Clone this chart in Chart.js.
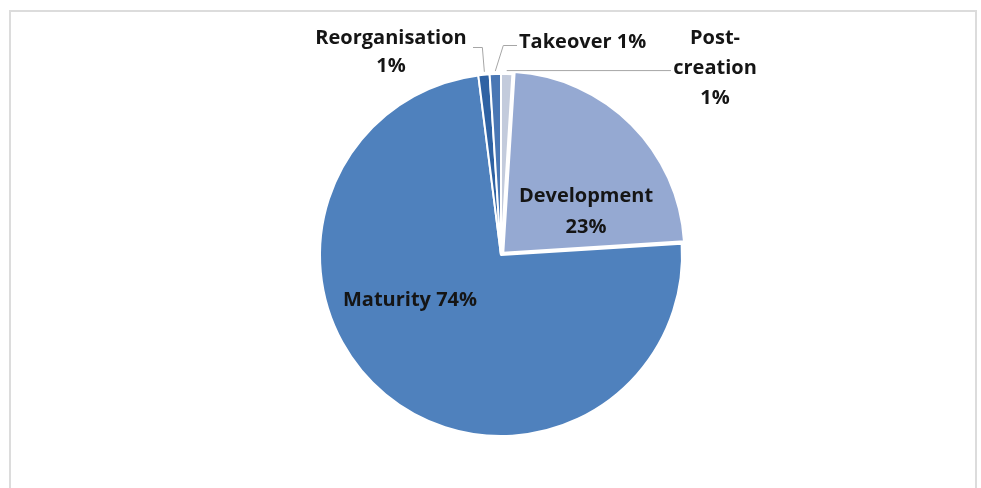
<!DOCTYPE html>
<html>
<head>
<meta charset="utf-8">
<script src="https://cdn.jsdelivr.net/npm/chart.js@4.4.0/dist/chart.umd.min.js"></script>
<style>
  html, body { margin: 0; padding: 0; background: #fff; }
  #wrap { position: relative; width: 981px; height: 488px; overflow: hidden; }
  #frame {
    position: absolute; left: 9px; top: 10px; width: 968px; height: 520px;
    border: 2px solid #dcdcdc; box-sizing: border-box;
  }
  #stageChart { position: absolute; left: 0; top: 0; }
</style>
</head>
<body>
<div id="wrap">
  <div id="frame"></div>
  <canvas id="stageChart" width="981" height="488"></canvas>
</div>
<script>
// Company life-cycle stages, clockwise from 12 o'clock
const categories = ['Post-creation', 'Development', 'Maturity', 'Reorganisation', 'Takeover'];
const shares = [1, 23, 74, 1, 1];
const sliceColors = ['#c3cbdc', '#95a9d2', '#4f81bd', '#2f62a3', '#4a77b4'];
// only the development slice is pulled out
const sliceOffsets = [0, 13, 0, 0, 0];

// label placement around the pie centre (pixels)
const labelSpots = [
  { dx: 214, dy: -217, gap: 30, align: 'center', lines: ['Post-', 'creation', '{v}'], leader: 'right' },
  { dx: 85, dy: -59, gap: 31, align: 'center', lines: ['Development', '{v}'] },
  { dx: -91, dy: 45, gap: 30, align: 'center', lines: ['Maturity {v}'] },
  { dx: -110, dy: -217, gap: 28, align: 'center', lines: ['Reorganisation', '{v}'], leader: 'left' },
  { dx: 18, dy: -213, gap: 30, align: 'left', lines: ['Takeover {v}'], leader: 'up' }
];

const sliceLabels = {
  id: 'sliceLabels',
  afterDatasetsDraw(chart) {
    const ctx = chart.ctx;
    const arcs = chart.getDatasetMeta(0).data;
    const cx = arcs[2].x, cy = arcs[2].y;
    ctx.save();

    // leader lines from the thin slices to their labels
    ctx.strokeStyle = '#a6a6a6';
    ctx.lineWidth = 1;
    arcs.forEach((arc, i) => {
      const spot = labelSpots[i];
      if (!spot.leader) return;
      const mid = (arc.startAngle + arc.endAngle) / 2;
      const ax = arc.x + Math.cos(mid) * (arc.outerRadius + 1);
      const ay = arc.y + Math.sin(mid) * (arc.outerRadius + 1);
      ctx.beginPath();
      if (spot.leader === 'right') {
        ctx.moveTo(ax, ay - 2.5);
        ctx.lineTo(cx + 170, ay - 2.5);
      } else if (spot.leader === 'left') {
        ctx.moveTo(ax + 0.5, ay - 2);
        ctx.lineTo(ax - 1.5, cy - 207.5);
        ctx.lineTo(cx - 28, cy - 207.5);
      } else {
        ctx.moveTo(ax, ay - 2);
        ctx.lineTo(ax + 8, cy - 209.5);
        ctx.lineTo(cx + 16, cy - 209.5);
      }
      ctx.stroke();
    });

    ctx.fillStyle = '#151515';
    ctx.font = 'bold 20px "Open Sans", sans-serif';
    ctx.textBaseline = 'middle';
    arcs.forEach((arc, i) => {
      const spot = labelSpots[i];
      const ox = i === 1 ? arc.x : cx;
      const oy = i === 1 ? arc.y : cy;
      ctx.textAlign = spot.align;
      spot.lines.forEach((line, k) => {
        const text = line.replace('{v}', shares[i] + '%');
        ctx.fillText(text, ox + spot.dx, oy + spot.dy + k * spot.gap);
      });
    });
    ctx.restore();
  }
};

new Chart(document.getElementById('stageChart'), {
  type: 'pie',
  data: {
    labels: categories,
    datasets: [{
      data: shares,
      backgroundColor: sliceColors,
      borderColor: '#ffffff',
      borderWidth: 2,
      offset: sliceOffsets,
      hoverOffset: 0,
      radius: 181
    }]
  },
  options: {
    responsive: false,
    animation: false,
    events: [],
    layout: { padding: { left: 21, right: 0, top: 22, bottom: 0 } },
    plugins: {
      legend: { display: false },
      tooltip: { enabled: false }
    }
  },
  plugins: [sliceLabels]
});
</script>
</body>
</html>
